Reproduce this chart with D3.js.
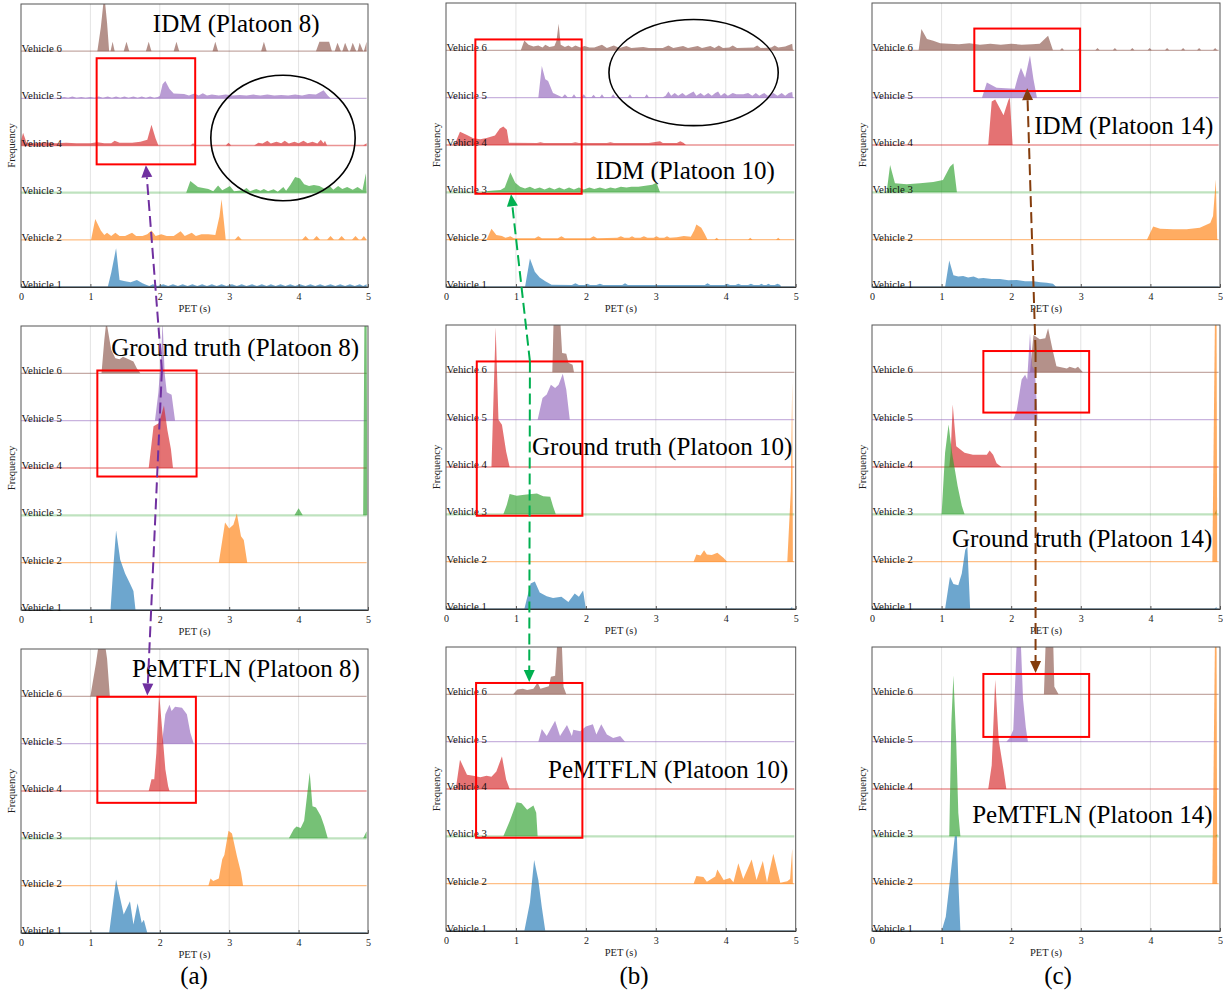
<!DOCTYPE html>
<meta charset="utf-8">
<title>PET distributions by vehicle</title>
<head>
  <script src="https://d3js.org/d3.v7.min.js"></script>
  <style>
    body { margin: 0; background: #fff; }
    text { font-family: "Liberation Serif", "Times New Roman", serif; }
  </style>
</head>
<body>
  <div id="viz"></div>
  <script>
    var vehicleNames = ["Vehicle 1", "Vehicle 2", "Vehicle 3", "Vehicle 4", "Vehicle 5", "Vehicle 6"];
    var vehicleColors = ["#1f77b4", "#ff7f0e", "#2ca02c", "#d62728", "#9467bd", "#8c564b"];
    var petTicks = [0, 1, 2, 3, 4, 5];

    // one list per vehicle (1..6): PET, height (in row units), PET, height, ...
    var idmP8 = [
      [1.25,0, 1.3,0.3, 1.37,0.82, 1.42,0.15, 1.5,0.12, 1.58,0.1, 1.67,0.15, 1.75,0.08, 1.81,0.04, 1.85,0.02, 1.9,0.06, 1.97,0.02, 2.05,0.06, 2.12,0.02, 2.19,0.06, 2.26,0.02, 2.33,0.06, 2.4,0.02, 2.47,0.06, 2.54,0.02, 2.61,0.06, 2.68,0.02, 2.75,0.06, 2.82,0.02, 2.89,0.06, 2.96,0.02, 3.04,0.06, 3.11,0.02, 3.18,0.06, 3.25,0.02, 3.33,0.06, 3.4,0.02, 3.47,0.06, 3.54,0.02, 3.6,0.06, 3.67,0.02, 3.74,0.06, 3.81,0.02, 3.88,0.06, 3.95,0.02, 4.02,0.06, 4.1,0.02, 4.17,0.06, 4.24,0.02, 4.31,0.06, 4.38,0.02, 4.46,0.06, 4.53,0.02, 4.6,0.06, 4.67,0.02, 4.74,0.06, 4.81,0.02, 4.88,0.06, 4.93,0.02, 4.98,0.06],
      [1.01,0, 1.07,0.44, 1.15,0.2, 1.2,0.1, 1.24,0.15, 1.3,0.08, 1.36,0.15, 1.42,0.08, 1.5,0.08, 1.6,0.15, 1.66,0.08, 1.75,0.08, 1.82,0.12, 1.88,0.2, 1.94,0.08, 2.02,0.12, 2.1,0.08, 2.2,0.08, 2.3,0.18, 2.36,0.08, 2.46,0.15, 2.52,0.08, 2.6,0.12, 2.7,0.12, 2.8,0.1, 2.86,0.5, 2.89,0.86, 2.93,0.3, 2.95,0, 3.08,0, 3.13,0.08, 3.18,0, 4.05,0, 4.1,0.08, 4.15,0, 4.21,0, 4.26,0.08, 4.31,0, 4.41,0, 4.46,0.08, 4.51,0, 4.57,0, 4.62,0.08, 4.67,0, 4.77,0, 4.82,0.08, 4.87,0, 4.9,0, 4.94,0.08, 4.98,0],
      [2.38,0, 2.44,0.25, 2.55,0.12, 2.7,0.08, 2.77,0.03, 2.84,0.15, 2.9,0.05, 2.96,0.1, 3.01,0.14, 3.07,0.03, 3.2,0.05, 3.25,0.1, 3.3,0.03, 3.39,0.08, 3.45,0.04, 3.5,0.08, 3.56,0.03, 3.64,0.07, 3.7,0.02, 3.78,0.12, 3.82,0.04, 3.88,0.16, 3.95,0.33, 4.02,0.3, 4.08,0.18, 4.15,0.14, 4.22,0.16, 4.3,0.14, 4.38,0.08, 4.45,0.14, 4.5,0.06, 4.57,0.14, 4.63,0.08, 4.7,0.12, 4.78,0.06, 4.85,0.12, 4.92,0.05, 4.97,0.41, 4.98,0],
      [0,0.1, 0.03,0.27, 0.08,0.06, 0.2,0.05, 0.35,0.07, 0.5,0.05, 0.65,0.06, 0.8,0.05, 1.0,0.05, 1.1,0.07, 1.2,0.05, 1.3,0.05, 1.35,0.1, 1.42,0.06, 1.6,0.06, 1.72,0.08, 1.82,0.12, 1.88,0.44, 1.94,0.15, 1.98,0, 2.44,0, 2.48,0.05, 2.52,0, 2.95,0, 2.99,0.06, 3.03,0, 3.36,0, 3.42,0.06, 3.48,0.04, 3.55,0.1, 3.6,0.04, 3.68,0.08, 3.75,0.05, 3.8,0.1, 3.86,0.04, 3.94,0.08, 4.0,0.05, 4.07,0.1, 4.13,0.05, 4.2,0.08, 4.27,0.04, 4.32,0.12, 4.36,0.05, 4.38,0.1, 4.41,0, 4.93,0, 4.98,0.05],
      [0.55,0, 0.62,0.03, 0.68,0.01, 0.74,0.04, 0.8,0.01, 0.87,0.03, 0.93,0.01, 1.0,0.03, 1.06,0.01, 1.12,0.04, 1.18,0.01, 1.25,0.04, 1.31,0.01, 1.37,0.04, 1.43,0.01, 1.49,0.04, 1.55,0.01, 1.62,0.04, 1.68,0.01, 1.74,0.04, 1.8,0.01, 1.86,0.04, 1.92,0.01, 1.97,0.03, 2.0,0.05, 2.04,0.3, 2.08,0.37, 2.14,0.2, 2.2,0.1, 2.35,0.09, 2.42,0.06, 2.5,0.1, 2.56,0.06, 2.62,0.11, 2.68,0.06, 2.75,0.08, 2.85,0.06, 2.95,0.08, 3.05,0.06, 3.15,0.07, 3.25,0.06, 3.35,0.08, 3.45,0.06, 3.55,0.08, 3.65,0.06, 3.75,0.07, 3.85,0.06, 3.95,0.08, 4.05,0.06, 4.15,0.09, 4.25,0.08, 4.36,0.17, 4.42,0.06, 4.46,0],
      [1.1,0, 1.15,0.5, 1.2,1.2, 1.24,0.6, 1.27,0, 1.29,0, 1.32,0.2, 1.35,0, 1.48,0, 1.52,0.2, 1.56,0, 1.8,0, 1.84,0.2, 1.88,0, 2.2,0, 2.24,0.2, 2.28,0, 2.76,0, 2.8,0.2, 2.84,0, 3.46,0, 3.5,0.2, 3.54,0, 4.25,0, 4.3,0.2, 4.44,0.2, 4.48,0, 4.52,0, 4.56,0.18, 4.61,0, 4.63,0, 4.67,0.18, 4.72,0, 4.74,0, 4.78,0.18, 4.83,0, 4.85,0, 4.88,0.18, 4.93,0, 4.94,0, 4.98,0.2]
    ];
    var truthP8 = [
      [1.29,0, 1.33,0.9, 1.37,1.68, 1.43,1.06, 1.5,0.77, 1.57,0.56, 1.62,0.4, 1.65,0],
      [2.85,0, 2.94,0.85, 3.0,0.72, 3.06,0.8, 3.11,1.04, 3.17,0.56, 3.21,0.48, 3.26,0],
      [3.94,0, 4.0,0.15, 4.06,0, 4.93,0, 4.95,4.5, 4.98,4.5, 4.99,0],
      [1.84,0, 1.88,0.5, 1.91,0.88, 1.99,0.95, 2.06,1.32, 2.11,0.8, 2.16,0.4, 2.19,0],
      [1.93,0, 1.98,0.6, 2.02,1.4, 2.04,2.1, 2.07,1.0, 2.1,0.6, 2.17,0.55, 2.22,0],
      [1.16,0, 1.2,0.7, 1.23,1.1, 1.3,0.5, 1.36,0.32, 1.42,0.3, 1.47,0.35, 1.55,0.3, 1.62,0.25, 1.67,0.1, 1.72,0]
    ];
    var pemP8 = [
      [1.27,0, 1.37,1.13, 1.48,0.39, 1.57,0.67, 1.62,0.18, 1.68,0.63, 1.74,0.21, 1.77,0.28, 1.82,0],
      [2.7,0, 2.73,0.15, 2.77,0.1, 2.85,0.15, 2.9,0.56, 2.93,0.65, 2.99,1.16, 3.04,1.1, 3.11,0.63, 3.17,0.28, 3.2,0],
      [3.86,0, 3.93,0.19, 3.97,0.25, 4.03,0.22, 4.08,0.37, 4.16,1.39, 4.2,0.68, 4.25,0.65, 4.32,0.47, 4.37,0.26, 4.42,0, 4.93,0, 4.98,0.15],
      [1.84,0, 1.88,0.25, 1.92,0.25, 1.95,0.8, 1.99,2.08, 2.03,1.37, 2.08,0.46, 2.12,0.1, 2.14,0],
      [2.03,0, 2.08,0.62, 2.14,0.82, 2.17,0.69, 2.22,0.78, 2.32,0.76, 2.39,0.62, 2.44,0.23, 2.49,0],
      [1.0,0, 1.08,0.7, 1.13,1.2, 1.2,1.2, 1.24,0.8, 1.28,0]
    ];
    var idmP10 = [
      [1.13,0, 1.2,0.6, 1.27,0.32, 1.34,0.2, 1.42,0.12, 1.51,0.05, 1.8,0.04, 1.85,0.08, 1.9,0.04, 1.98,0.04, 2.02,0.07, 2.06,0.04, 2.15,0.04, 2.2,0.07, 2.25,0.04, 2.52,0.04, 2.56,0.08, 2.6,0.04, 3.7,0.04, 3.74,0.08, 3.78,0.04, 3.98,0.04, 4.02,0.07, 4.06,0.04, 4.14,0.04, 4.18,0.07, 4.22,0.04, 4.32,0.04, 4.36,0.07, 4.4,0.04, 4.48,0.04, 4.51,0.07, 4.54,0.04, 4.58,0.04, 4.61,0.07, 4.64,0.04, 4.7,0.04, 4.74,0.07, 4.78,0.04, 4.79,0],
      [0.58,0, 0.65,0.23, 0.72,0.1, 0.8,0.08, 0.85,0.04, 0.92,0.07, 0.97,0.03, 1.27,0.03, 1.32,0.07, 1.37,0.03, 1.6,0.03, 1.65,0.07, 1.7,0.03, 2.06,0.03, 2.11,0.07, 2.16,0.03, 2.45,0.04, 2.5,0.07, 2.55,0.04, 2.62,0.04, 2.66,0.07, 2.7,0.04, 2.78,0.04, 2.83,0.07, 2.88,0.04, 2.97,0.04, 3.01,0.07, 3.05,0.04, 3.12,0.04, 3.16,0.07, 3.2,0.04, 3.3,0.05, 3.4,0.08, 3.5,0.06, 3.55,0.2, 3.58,0.32, 3.65,0.25, 3.7,0.12, 3.74,0, 3.84,0, 3.87,0.04, 3.9,0, 4.32,0, 4.35,0.04, 4.38,0, 4.72,0, 4.75,0.04, 4.78,0],
      [0.56,0, 0.6,0.03, 0.68,0.04, 0.78,0.05, 0.84,0.1, 0.92,0.42, 0.99,0.2, 1.06,0.12, 1.13,0.08, 1.2,0.12, 1.27,0.07, 1.34,0.1, 1.41,0.06, 1.48,0.1, 1.55,0.06, 1.62,0.1, 1.69,0.06, 1.76,0.1, 1.83,0.06, 1.9,0.1, 1.97,0.06, 2.05,0.1, 2.12,0.07, 2.2,0.1, 2.28,0.07, 2.35,0.1, 2.42,0.08, 2.5,0.12, 2.58,0.1, 2.65,0.12, 2.75,0.12, 2.85,0.14, 2.95,0.16, 3.01,0.2, 3.06,0],
      [0.12,0, 0.2,0.28, 0.3,0.21, 0.39,0.14, 0.49,0.12, 0.58,0.15, 0.7,0.2, 0.77,0.35, 0.82,0.39, 0.87,0.32, 0.9,0.05, 1.3,0.04, 1.35,0.06, 1.4,0.04, 1.8,0.04, 1.85,0.06, 1.9,0.04, 2.3,0.04, 2.35,0.06, 2.4,0.04, 2.9,0.04, 3.06,0.08, 3.1,0.04, 3.3,0.04, 3.35,0.08, 3.4,0.04, 3.43,0],
      [1.32,0, 1.37,0.67, 1.42,0.39, 1.46,0.35, 1.53,0.1, 1.6,0.05, 1.66,0.01, 1.7,0.07, 1.74,0.01, 1.8,0.01, 1.83,0.07, 1.86,0.01, 1.94,0.01, 1.97,0.07, 2.0,0.01, 2.08,0.01, 2.11,0.06, 2.14,0.01, 2.2,0.01, 2.23,0.07, 2.26,0.01, 2.36,0.01, 2.39,0.07, 2.42,0.01, 2.6,0.01, 2.63,0.07, 2.66,0.01, 2.84,0.01, 2.87,0.07, 2.9,0.01, 3.1,0.01, 3.14,0.04, 3.18,0.13, 3.22,0.04, 3.27,0.1, 3.32,0.04, 3.38,0.1, 3.43,0.04, 3.5,0.1, 3.54,0.13, 3.58,0.04, 3.64,0.1, 3.69,0.04, 3.75,0.1, 3.8,0.04, 3.85,0.1, 3.89,0.13, 3.93,0.04, 3.98,0.1, 4.03,0.04, 4.1,0.1, 4.15,0.07, 4.25,0.07, 4.32,0.1, 4.38,0.04, 4.43,0.1, 4.48,0.04, 4.55,0.1, 4.6,0.04, 4.68,0.1, 4.74,0.04, 4.8,0.1, 4.85,0.04, 4.9,0.1, 4.95,0.12, 4.96,0],
      [1.07,0, 1.12,0.21, 1.18,0.12, 1.25,0.08, 1.32,0.1, 1.38,0.06, 1.42,0.12, 1.48,0.07, 1.55,0.09, 1.58,0.2, 1.61,0.56, 1.64,0.12, 1.7,0.07, 1.75,0.1, 1.8,0.06, 1.85,0.1, 1.92,0.06, 1.98,0.09, 2.05,0.06, 2.12,0.06, 2.23,0.12, 2.3,0.05, 2.4,0.1, 2.48,0.05, 2.58,0.09, 2.65,0.05, 2.82,0.07, 2.9,0.05, 3.1,0.05, 3.18,0.1, 3.25,0.05, 3.39,0.09, 3.46,0.05, 3.6,0.09, 3.66,0.05, 3.78,0.09, 3.84,0.05, 3.9,0.1, 3.96,0.05, 4.05,0.06, 4.1,0.1, 4.16,0.05, 4.4,0.06, 4.45,0.1, 4.5,0.05, 4.65,0.06, 4.7,0.1, 4.75,0.06, 4.85,0.08, 4.95,0.14, 4.96,0]
    ];
    var truthP10 = [
      [1.12,0, 1.21,0.54, 1.27,0.58, 1.34,0.35, 1.44,0.27, 1.53,0.23, 1.65,0.26, 1.75,0.15, 1.84,0.33, 1.9,0.26, 1.96,0.39, 2.0,0, 4.92,0, 4.95,0.05],
      [3.54,0, 3.58,0.15, 3.64,0.13, 3.69,0.24, 3.73,0.15, 3.8,0.14, 3.88,0.19, 3.97,0.08, 4.02,0, 4.88,0, 4.93,1.5, 4.95,3.8, 4.96,0],
      [0.82,0, 0.87,0.2, 0.91,0.43, 1.01,0.39, 1.15,0.42, 1.3,0.44, 1.39,0.38, 1.49,0.37, 1.53,0.17, 1.57,0],
      [0.65,0, 0.68,1.5, 0.71,2.96, 0.75,1.0, 0.8,0.89, 0.86,0.33, 0.91,0],
      [1.31,0, 1.38,0.46, 1.44,0.53, 1.5,0.74, 1.56,0.67, 1.61,0.74, 1.67,0.97, 1.72,0.63, 1.77,0],
      [1.52,0, 1.54,1.2, 1.63,1.2, 1.66,0.41, 1.72,0.39, 1.75,0.2, 1.81,0.16, 1.83,0]
    ];
    var pemP10 = [
      [1.12,0, 1.2,0.6, 1.26,1.5, 1.32,1.08, 1.37,0.5, 1.42,0],
      [3.54,0, 3.58,0.16, 3.68,0.14, 3.73,0.04, 3.85,0.15, 3.88,0.3, 3.97,0.08, 4.06,0.12, 4.11,0.03, 4.18,0.43, 4.25,0.1, 4.37,0.51, 4.44,0.08, 4.53,0.48, 4.59,0.03, 4.68,0.63, 4.78,0.02, 4.88,0.05, 4.92,0.1, 4.95,0.74, 4.96,0],
      [0.82,0, 0.91,0.32, 1.01,0.72, 1.08,0.7, 1.16,0.56, 1.25,0.65, 1.29,0.5, 1.31,0],
      [0.14,0, 0.2,0.62, 0.3,0.3, 0.39,0.28, 0.49,0.25, 0.58,0.28, 0.65,0.26, 0.72,0.37, 0.8,0.69, 0.86,0.2, 0.91,0],
      [1.32,0, 1.37,0.27, 1.44,0.12, 1.56,0.44, 1.63,0.12, 1.73,0.35, 1.8,0.12, 1.82,0.25, 1.92,0.22, 2.0,0.32, 2.1,0.37, 2.15,0.15, 2.22,0.37, 2.3,0.15, 2.39,0.08, 2.49,0.12, 2.56,0],
      [0.96,0, 1.02,0.1, 1.1,0.12, 1.16,0.09, 1.25,0.12, 1.31,0.25, 1.35,0.12, 1.47,0.17, 1.5,0.37, 1.56,0.39, 1.6,1.3, 1.65,1.3, 1.68,0.16, 1.72,0]
    ];
    var idmP14 = [
      [1.05,0, 1.11,0.56, 1.17,0.25, 1.24,0.22, 1.31,0.23, 1.38,0.2, 1.46,0.22, 1.53,0.18, 1.6,0.19, 1.72,0.17, 1.84,0.17, 1.96,0.14, 2.08,0.15, 2.2,0.12, 2.32,0.12, 2.42,0.1, 2.51,0.09, 2.6,0.07, 2.65,0],
      [3.95,0, 4.04,0.28, 4.14,0.23, 4.33,0.22, 4.52,0.22, 4.71,0.25, 4.86,0.35, 4.9,0.5, 4.94,1.27, 4.96,0],
      [0.21,0, 0.26,0.58, 0.33,0.19, 0.5,0.17, 0.69,0.19, 0.88,0.22, 1.02,0.26, 1.12,0.54, 1.17,0.61, 1.22,0],
      [1.67,0, 1.72,0.92, 1.77,0.96, 1.89,0.63, 1.96,0.95, 1.98,1.0, 2.02,0],
      [1.58,0, 1.65,0.32, 1.79,0.21, 2.05,0.19, 2.1,0.46, 2.14,0.63, 2.2,0.42, 2.27,0.89, 2.32,0.39, 2.37,0],
      [0.67,0, 0.71,0.45, 0.79,0.24, 0.88,0.2, 0.98,0.15, 1.1,0.14, 1.25,0.13, 1.4,0.15, 1.55,0.12, 1.7,0.14, 1.85,0.12, 2.0,0.14, 2.15,0.12, 2.3,0.13, 2.41,0.14, 2.53,0.31, 2.6,0, 2.7,0, 2.73,0.05, 2.76,0, 2.95,0, 2.98,0.05, 3.01,0, 3.21,0, 3.24,0.05, 3.27,0, 3.46,0, 3.49,0.05, 3.52,0, 3.71,0, 3.74,0.05, 3.77,0, 3.96,0, 3.99,0.05, 4.02,0, 4.21,0, 4.24,0.05, 4.27,0, 4.44,0, 4.47,0.05, 4.5,0, 4.67,0, 4.7,0.05, 4.73,0, 4.9,0, 4.93,0.05, 4.96,0]
    ];
    var truthP14 = [
      [1.05,0, 1.12,0.68, 1.17,0.53, 1.24,0.5, 1.29,0.75, 1.34,1.25, 1.37,1.32, 1.41,0, 4.92,0, 4.95,0.05],
      [4.89,0, 4.93,5.5, 4.95,5.5, 4.96,0],
      [1.0,0, 1.05,1.3, 1.1,1.9, 1.15,1.3, 1.23,0.6, 1.29,0.18, 1.33,0, 4.92,0, 4.95,0.1],
      [1.11,0, 1.13,0.3, 1.16,1.32, 1.21,0.44, 1.33,0.3, 1.45,0.26, 1.65,0.26, 1.69,0.35, 1.74,0.26, 1.79,0.08, 1.86,0],
      [2.03,0, 2.08,0.2, 2.15,0.85, 2.2,0.95, 2.23,0.85, 2.27,1.82, 2.3,1.13, 2.34,1.05, 2.38,0],
      [2.27,0, 2.32,0.79, 2.41,0.7, 2.49,0.72, 2.53,0.93, 2.6,0.44, 2.65,0.13, 2.8,0.08, 2.84,0.12, 2.92,0.08, 2.96,0.12, 3.03,0]
    ];
    var pemP14 = [
      [1.0,0, 1.06,0.3, 1.12,1.08, 1.19,2.0, 1.22,2.0, 1.24,1.08, 1.27,0],
      [4.89,0, 4.93,5.5, 4.95,5.5, 4.96,0],
      [1.11,0, 1.14,2.4, 1.17,3.4, 1.21,2.0, 1.24,0.5, 1.27,0, 4.93,0, 4.96,0.05],
      [1.67,0, 1.72,0.5, 1.77,2.31, 1.82,1.04, 1.89,0.4, 1.93,0],
      [1.93,0, 1.98,0.08, 2.03,0.25, 2.08,2.1, 2.13,2.4, 2.17,0.9, 2.21,0.3, 2.24,0],
      [2.47,0, 2.5,1.3, 2.6,1.3, 2.62,0.16, 2.68,0]
    ];

    var panels = [
      {id: "a1", col: 0, row: 0, title: "IDM (Platoon 8)", tx: 1.9, ty: 5.4, rows: idmP8},
      {id: "a2", col: 0, row: 1, title: "Ground truth (Platoon 8)", tx: 1.3, ty: 5.37, rows: truthP8},
      {id: "a3", col: 0, row: 2, title: "PeMTFLN (Platoon 8)", tx: 1.6, ty: 5.41, rows: pemP8},
      {id: "b1", col: 1, row: 0, title: "IDM (Platoon 10)", tx: 2.14, ty: 2.28, rows: idmP10},
      {id: "b2", col: 1, row: 1, title: "Ground truth (Platoon 10)", tx: 1.23, ty: 3.26, rows: truthP10},
      {id: "b3", col: 1, row: 2, title: "PeMTFLN (Platoon 10)", tx: 1.46, ty: 3.23, rows: pemP10},
      {id: "c1", col: 2, row: 0, title: "IDM (Platoon 14)", tx: 2.33, ty: 3.24, rows: idmP14},
      {id: "c2", col: 2, row: 1, title: "Ground truth (Platoon 14)", tx: 1.15, ty: 1.3, rows: truthP14},
      {id: "c3", col: 2, row: 2, title: "PeMTFLN (Platoon 14)", tx: 1.44, ty: 2.28, rows: pemP14}
    ];

    // highlight boxes: panel, PET from, PET to, row level from, row level to
    var boxes = [
      ["a1", 1.09, 2.51, 2.6, 4.85], ["a2", 1.1, 2.53, 2.82, 5.06], ["a3", 1.1, 2.52, 2.75, 4.99],
      ["b1", 0.42, 1.94, 1.97, 5.23], ["b2", 0.44, 1.95, 1.97, 5.23], ["b3", 0.43, 1.95, 1.97, 5.24],
      ["c1", 1.47, 2.99, 4.14, 5.46], ["c2", 1.6, 3.12, 4.15, 5.45], ["c3", 1.6, 3.12, 4.1, 5.43]
    ];
    // ellipses: panel, PET centre, level centre, PET radius, level radius
    var rings = [["a1", 3.775, 3.16, 1.04, 1.33], ["b1", 3.54, 4.53, 1.21, 1.12]];
    var arrows = [
      {color: "#7030a0", from: ["a2", 2.03, 5.06], to: ["a1", 1.8, 2.58]},
      {color: "#7030a0", from: ["a2", 2.03, 5.06], to: ["a3", 1.82, 5.02]},
      {color: "#00b050", from: ["b2", 1.2, 5.23], to: ["b1", 0.93, 1.96]},
      {color: "#00b050", from: ["b2", 1.2, 5.23], to: ["b3", 1.19, 5.26]},
      {color: "#843c0c", from: ["c2", 2.35, 5.45], to: ["c1", 2.23, 4.2]},
      {color: "#843c0c", from: ["c2", 2.35, 5.45], to: ["c3", 2.35, 5.45]}
    ];
    var captions = ["(a)", "(b)", "(c)"];

    var width = 1223, height = 996;
    var colX = [[21, 368], [446, 795.7], [872, 1220]];
    var colCaptionX = [194, 634, 1058];
    var rowY = [
      [[4, 287], [326, 610], [649, 933]],
      [[3, 287], [325, 609], [647, 931]],
      [[3, 287], [325, 609], [647, 931]]
    ];

    function toPairs(flat) {
      var out = [];
      for (var i = 0; i < flat.length; i += 2) out.push([flat[i], flat[i + 1]]);
      return out;
    }

    var svg = d3.select("#viz").append("svg")
      .attr("width", width)
      .attr("height", height);
    var defs = svg.append("defs");
    var byId = {};

    panels.forEach(function(p) {
      var xr = colX[p.col], yr = rowY[p.col][p.row];
      var x = d3.scaleLinear().domain([0, 5]).range(xr);
      var y = d3.scaleLinear().domain([0, 6]).range([yr[1], yr[0]]);
      p.x = x;
      p.y = y;
      byId[p.id] = p;

      defs.append("clipPath").attr("id", "clip-" + p.id)
        .append("rect")
        .attr("x", xr[0]).attr("y", yr[0])
        .attr("width", xr[1] - xr[0]).attr("height", yr[1] - yr[0]);

      var g = svg.append("g");

      // vertical grid
      g.selectAll(".grid").data([1, 2, 3, 4]).enter().append("line")
        .attr("x1", function(d) { return x(d); })
        .attr("x2", function(d) { return x(d); })
        .attr("y1", yr[0]).attr("y2", yr[1])
        .attr("stroke", "#e3e3e3").attr("stroke-width", 1);

      var plot = g.append("g").attr("clip-path", "url(#clip-" + p.id + ")");

      // baselines
      plot.selectAll(".base").data(d3.range(6)).enter().append("line")
        .attr("x1", x(0)).attr("x2", x(4.98))
        .attr("y1", function(k) { return y(k); })
        .attr("y2", function(k) { return y(k); })
        .attr("stroke", function(k) { return vehicleColors[k]; })
        .attr("stroke-opacity", function(k) { return k == 2 ? 0.3 : 0.5; })
        .attr("stroke-width", function(k) { return k == 2 ? 2.2 : 1.4; });

      // ridges, top row first
      [5, 4, 3, 2, 1, 0].forEach(function(k) {
        var area = d3.area()
          .x(function(d) { return x(d[0]); })
          .y0(y(k))
          .y1(function(d) { return y(k + d[1]); });
        plot.append("path")
          .datum(toPairs(p.rows[k]))
          .attr("d", area)
          .attr("fill", vehicleColors[k])
          .attr("fill-opacity", 0.65);
      });

      // frame
      g.append("rect")
        .attr("x", xr[0]).attr("y", yr[0])
        .attr("width", xr[1] - xr[0]).attr("height", yr[1] - yr[0])
        .attr("fill", "none").attr("stroke", "#555").attr("stroke-width", 1);

      var axis = d3.axisBottom(x)
        .tickValues(petTicks)
        .tickSizeInner(-3)
        .tickSizeOuter(0)
        .tickPadding(6)
        .tickFormat(d3.format("d"));
      var ax = g.append("g")
        .attr("transform", "translate(0," + yr[1] + ")")
        .call(axis);
      ax.select(".domain").attr("stroke", "#333");
      ax.selectAll(".tick line").attr("stroke", "#555");
      ax.selectAll("text")
        .attr("font-family", "Liberation Serif, Times New Roman, serif")
        .attr("font-size", "10px")
        .attr("fill", "#222");

      g.append("text")
        .attr("x", (xr[0] + xr[1]) / 2)
        .attr("y", yr[1] + 25)
        .attr("text-anchor", "middle")
        .attr("font-size", "10.5px")
        .attr("fill", "#222")
        .text("PET (s)");

      g.append("text")
        .attr("transform", "translate(" + (xr[0] - 6.5) + "," + ((yr[0] + yr[1]) / 2) + ") rotate(-90)")
        .attr("text-anchor", "middle")
        .attr("font-size", "10.5px")
        .attr("fill", "#222")
        .text("Frequency");

      g.selectAll(".vlabel").data(d3.range(6)).enter().append("text")
        .attr("x", xr[0] + 0.5)
        .attr("y", function(k) { return y(k) + 1; })
        .attr("font-size", "10.8px")
        .attr("fill", "#111")
        .text(function(k) { return vehicleNames[k]; });
    });

    // titles
    panels.forEach(function(p) {
      svg.append("text")
        .attr("x", p.x(p.tx))
        .attr("y", p.y(p.ty))
        .attr("font-size", "25px")
        .attr("fill", "#000")
        .text(p.title);
    });

    // red boxes
    boxes.forEach(function(b) {
      var p = byId[b[0]];
      svg.append("rect")
        .attr("x", p.x(b[1]))
        .attr("y", p.y(b[4]))
        .attr("width", p.x(b[2]) - p.x(b[1]))
        .attr("height", p.y(b[3]) - p.y(b[4]))
        .attr("fill", "none")
        .attr("stroke", "#ff0000")
        .attr("stroke-width", 2);
    });

    rings.forEach(function(r) {
      var p = byId[r[0]];
      svg.append("ellipse")
        .attr("cx", p.x(r[1]))
        .attr("cy", p.y(r[2]))
        .attr("rx", p.x(r[3]) - p.x(0))
        .attr("ry", p.y(0) - p.y(r[4]))
        .attr("fill", "none")
        .attr("stroke", "#000")
        .attr("stroke-width", 1.6);
    });

    // dashed arrows
    arrows.forEach(function(a, i) {
      var pf = byId[a.from[0]], pt = byId[a.to[0]];
      var x1 = pf.x(a.from[1]), y1 = pf.y(a.from[2]);
      var x2 = pt.x(a.to[1]), y2 = pt.y(a.to[2]);
      var ang = Math.atan2(y2 - y1, x2 - x1);
      var len = 12, half = 5.5;
      var bx = x2 - len * Math.cos(ang), by = y2 - len * Math.sin(ang);
      svg.append("line")
        .attr("x1", x1).attr("y1", y1)
        .attr("x2", bx).attr("y2", by)
        .attr("stroke", a.color)
        .attr("stroke-width", 2)
        .attr("stroke-dasharray", "11,5");
      var head = [
        [x2, y2],
        [bx + half * Math.sin(ang), by - half * Math.cos(ang)],
        [bx - half * Math.sin(ang), by + half * Math.cos(ang)]
      ];
      svg.append("path")
        .attr("d", "M" + head.map(function(q) { return q.join(","); }).join("L") + "Z")
        .attr("fill", a.color);
    });

    captions.forEach(function(c, i) {
      svg.append("text")
        .attr("x", colCaptionX[i])
        .attr("y", 984)
        .attr("text-anchor", "middle")
        .attr("font-size", "25px")
        .attr("fill", "#000")
        .text(c);
    });
  </script>
</body>
